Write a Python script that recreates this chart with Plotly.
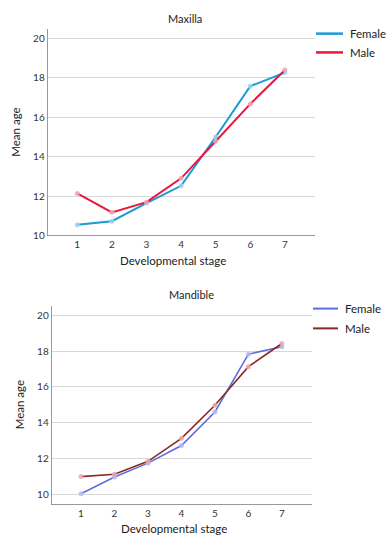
import plotly.graph_objects as go

stages = [1, 2, 3, 4, 5, 6, 7]
tick_labels = ["1", "2", "3", "4", "5", "6", "7"]

maxilla_female = [10.54, 10.72, 11.64, 12.52, 15.00, 17.58, 18.27]
maxilla_male = [12.13, 11.17, 11.69, 12.90, 14.78, 16.68, 18.40]

mandible_female = [10.06, 10.99, 11.76, 12.74, 14.61, 17.83, 18.24]
mandible_male = [11.01, 11.14, 11.86, 13.14, 14.98, 17.13, 18.42]

y_ticks = [10, 12, 14, 16, 18, 20]
series_names = ["Female", "Male"]

FONT = "Lato"
W, H = 389, 550

fig = go.Figure()

def add(x, y, name, color, mcolor, xa, ya, width):
    fig.add_trace(go.Scatter(
        x=x, y=y, name=name, mode="lines+markers",
        line=dict(color=color, width=width),
        marker=dict(size=5, color=mcolor, line=dict(width=0)),
        xaxis=xa, yaxis=ya, showlegend=False, cliponaxis=False,
    ))

top_colors = ["#1b9ad6", "#e8173f"]
bot_colors = ["#5b6ee0", "#8b2a25"]

add(stages, maxilla_female, series_names[0], top_colors[0], "rgba(160,210,238,0.85)", "x", "y", 2)
add(stages, maxilla_male, series_names[1], top_colors[1], "rgba(242,165,182,0.85)", "x", "y", 2)
add(stages, mandible_female, series_names[0], bot_colors[0], "rgba(180,188,240,0.85)", "x2", "y2", 1.6)
add(stages, mandible_male, series_names[1], bot_colors[1], "rgba(232,170,178,0.85)", "x2", "y2", 1.6)

def px_x(p):
    return p / W

def px_y(p):
    return 1 - p / H

axis_common = dict(
    showline=True, linecolor="#9a9a9a", linewidth=1,
    ticks="", tickfont=dict(family=FONT, size=10, color="#333"),
    zeroline=False,
)

# manual legends (line swatch + text)
shapes = []
annotations = []
legend_specs = [
    (top_colors, 316, 343, [34, 53], 2.5),
    (bot_colors, 313, 338, [312, 332], 2),
]
for colors, x0, x1, ys, lw in legend_specs:
    for name, col, yy in zip(series_names, colors, ys):
        shapes.append(dict(type="line", xref="paper", yref="paper",
                           x0=px_x(x0), x1=px_x(x1), y0=px_y(yy), y1=px_y(yy),
                           line=dict(color=col, width=lw)))
        annotations.append(dict(text=name, x=px_x(x1 + 5), y=px_y(yy),
                                xref="paper", yref="paper", xanchor="left",
                                yanchor="middle", showarrow=False,
                                font=dict(family=FONT, size=11.5, color="#222")))

def label(text, x, y, size):
    return dict(text=text, x=px_x(x), y=px_y(y), xref="paper", yref="paper",
                xanchor="center", yanchor="middle", showarrow=False,
                font=dict(family=FONT, size=size, color="#222"))

annotations += [
    label("Maxilla", 185, 19, 11),
    label("Mandible", 191, 298, 11),
    label("Developmental stage", 172.5, 263, 11.5),
    label("Developmental stage", 174, 534, 11.5),
]

fig.update_layout(
    width=W, height=H,
    margin=dict(l=0, r=0, t=0, b=0),
    paper_bgcolor="white", plot_bgcolor="white",
    font=dict(family=FONT, color="#222"),
    showlegend=False,
    hovermode=False,
    xaxis=dict(domain=[px_x(47.7), px_x(315)], range=[0.145, 7.87],
               tickvals=stages, ticktext=tick_labels, showgrid=False,
               anchor="y", **axis_common),
    yaxis=dict(domain=[px_y(238), px_y(29)], range=[10, 20.5],
               tickvals=y_ticks, showgrid=True, gridcolor="#d9d9d9",
               title=dict(text="Mean age", font=dict(size=11.5), standoff=10),
               anchor="x", **axis_common),
    xaxis2=dict(domain=[px_x(51.7), px_x(311.7)], range=[0.125, 7.89],
                tickvals=stages, ticktext=tick_labels, showgrid=False,
                anchor="y2", **axis_common),
    yaxis2=dict(domain=[px_y(509.3), px_y(309)], range=[9.5, 20.53],
                tickvals=y_ticks, showgrid=True, gridcolor="#d9d9d9",
                title=dict(text="Mean age", font=dict(size=11.5), standoff=10),
                anchor="x2", **axis_common),
    shapes=shapes,
    annotations=annotations,
)

fig.write_html(
    "out.html",
    config={"displayModeBar": False},
    post_script="document.body.style.margin='0';document.body.style.overflow='hidden';",
)
